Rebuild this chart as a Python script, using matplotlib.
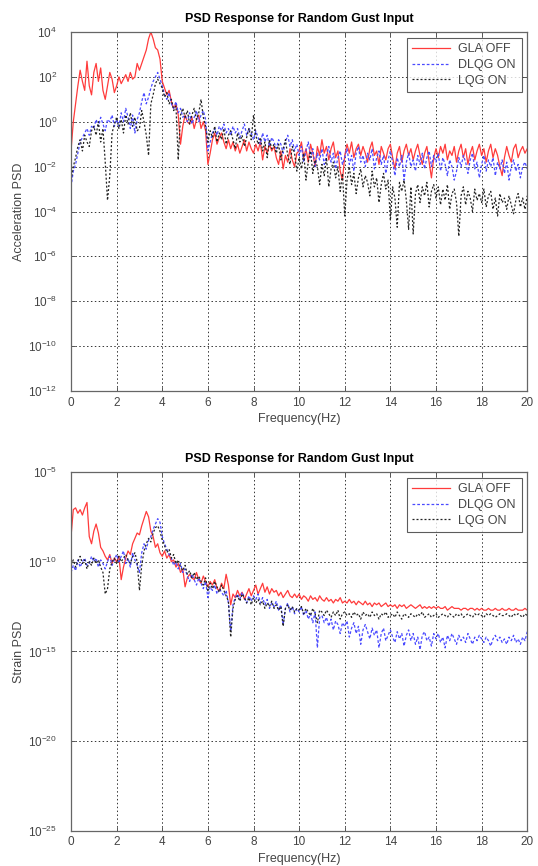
import numpy as np
import matplotlib
matplotlib.use("Agg")
import matplotlib.pyplot as plt
from matplotlib.ticker import NullLocator, FixedLocator

plt.rcParams['font.family'] = ['Liberation Sans', 'DejaVu Sans']

# Frequency axis (Hz), 0.1 Hz resolution
freq_start, freq_stop, freq_count = 0.0, 20.0, 201
freq = np.linspace(freq_start, freq_stop, freq_count)

series_labels = ["GLA OFF", "DLQG ON", "LQG ON"]
title_text = "PSD Response for Random Gust Input"
xlabel_text = "Frequency(Hz)"
ylabels = ["Acceleration PSD", "Strain PSD"]
xticks = [0, 2, 4, 6, 8, 10, 12, 14, 16, 18, 20]
acc_yticks_exp = [4, 2, 0, -2, -4, -6, -8, -10, -12]
strain_yticks_exp = [-5, -10, -15, -20, -25]

# ---- Acceleration PSD (log10 values) ----
acc_gla_off_log10 = [
    -1.3, 0.0, 0.8, 1.6, 2.3, 1.8, 1.4, 2.7, 1.6, 1.2,
    2.2, 2.6, 1.8, 2.4, 1.4, 1.0, 1.6, 2.2, 1.9, 1.3,
    1.6, 2.0, 1.7, 1.9, 2.1, 1.8, 2.2, 1.9, 2.0, 2.6,
    2.3, 2.6, 2.9, 3.2, 3.7, 4.0, 3.7, 3.3, 3.2, 2.8,
    1.8, 1.5, 1.2, 1.4, 0.9, 0.6, 0.8, 0.3, -1.0, -0.2,
    0.3, 0.0, -0.1, 0.2, -0.3, 0.1, 0.3, -0.3, 0.0, -0.4,
    -1.9, -1.4, -0.8, -0.5, -1.0, -0.7, -0.5, -0.9, -1.2, -0.8,
    -1.2, -0.9, -1.3, -1.0, -1.4, -1.1, -0.8, -1.3, -0.9, -1.2,
    -1.4, -1.0, -1.3, -0.9, -1.7, -1.1, -1.4, -1.0, -1.3, -1.1,
    -1.6, -1.9, -1.3, -2.1, -1.5, -1.8, -1.2, -1.7, -2.0, -1.4,
    -1.3, -0.9, -1.6, -1.2, -1.8, -1.0, -1.4, -2.0, -1.1, -1.5,
    -0.8, -1.4, -1.1, -1.7, -1.2, -0.9, -1.6, -1.3, -2.2, -2.6,
    -1.5, -1.0, -1.4, -0.9, -1.6, -1.2, -1.0, -1.5, -1.1, -1.4,
    -1.8, -1.2, -0.9, -1.5, -1.3, -1.9, -1.1, -1.4, -1.7, -1.2,
    -1.0, -1.6, -2.1, -1.4, -1.1, -1.8, -1.3, -1.0, -1.5, -1.2,
    -1.7, -1.3, -1.0, -1.5, -1.9, -1.4, -1.1, -1.8, -2.5, -1.6,
    -1.2, -1.6, -1.1, -1.4, -1.0, -1.7, -1.3, -1.5, -1.1, -1.8,
    -1.3, -1.0, -1.6, -1.2, -1.9, -1.4, -1.1, -1.7, -1.3, -1.0,
    -1.5, -1.2, -1.8, -1.3, -1.0, -1.6, -1.2, -1.5, -2.0, -2.4,
    -1.6, -1.1, -1.5, -1.8, -1.2, -1.0, -1.6, -1.3, -1.1, -1.4, -1.2,
]
acc_dlqg_on_log10 = [
    -2.9, -2.2, -1.9, -1.4, -0.9, -0.7, -0.5, -0.3, -0.6, -0.2,
    -0.3, 0.1, -0.2, 0.2, -0.1, -0.4, 0.1, 0.0, 0.3, -0.2,
    0.1, -0.2, 0.4, 0.0, 0.6, 0.2, -0.3, 0.3, -0.5, 0.1,
    0.4, 0.9, 1.3, 0.8, 1.1, 1.5, 1.8, 2.0, 2.2, 1.9,
    1.6, 1.2, 1.0, 1.3, 0.8, 0.6, 0.9, 0.4, 0.6, 0.2,
    0.3, 0.0, 0.4, -0.1, 0.2, 0.5, 0.0, 0.3, 0.5, 0.1,
    -1.3, -0.9, -0.5, -0.3, -0.6, -0.2, -0.4, -0.1, -0.5, -0.3,
    -0.6, -0.2, -0.5, -0.3, -0.7, -0.4, -0.1, -0.6, -0.3, -0.5,
    -0.8, -0.4, -0.7, -1.0, -0.5, -0.9, -0.6, -1.1, -0.7, -0.9,
    -1.2, -0.8, -1.0, -1.4, -0.9, -0.6, -1.1, -0.8, -1.3, -1.0,
    -1.5, -1.1, -1.8, -1.3, -0.9, -1.6, -1.2, -2.0, -1.4, -1.7,
    -1.2, -1.9, -1.5, -1.1, -1.8, -1.4, -2.1, -1.6, -1.3, -1.9,
    -1.6, -1.2, -1.9, -1.5, -2.2, -1.4, -1.1, -1.8, -1.5, -2.0,
    -1.4, -1.7, -1.2, -2.1, -1.6, -1.3, -1.9, -1.5, -2.3, -1.7,
    -1.3, -1.8, -2.4, -1.6, -2.0, -1.5, -2.6, -1.8, -1.4, -2.0,
    -1.7, -2.2, -1.5, -1.9, -1.4, -2.1, -1.6, -1.3, -2.0, -1.5,
    -1.8, -1.4, -2.2, -1.6, -1.9, -2.4, -1.7, -2.0, -2.6, -2.2,
    -1.6, -2.0, -1.5, -1.8, -2.3, -1.7, -1.4, -2.1, -1.8, -2.5,
    -1.9, -1.5, -2.2, -1.7, -2.0, -1.6, -2.4, -1.8, -2.1, -1.7,
    -2.3, -1.8, -2.6, -2.0, -1.7, -2.2, -1.9, -2.5, -2.0, -1.8, -2.1,
]
acc_lqg_on_log10 = [
    -2.6, -2.0, -1.6, -1.1, -0.8, -1.3, -0.6, -0.9, -1.1, -0.4,
    -0.2, -0.6, 0.0, -0.9, -0.3, -1.8, -3.5, -2.4, -0.5, -0.1,
    0.2, -0.3, 0.1, -0.5, 0.3, -0.1, 0.4, -0.2, 0.2, -0.4,
    -0.3, 0.5, 0.0, -0.6, -1.5, 0.8, 1.2, 1.7, 1.9, 1.7,
    1.5, 1.1, 1.3, 0.8, 1.0, 0.5, 0.7, -1.7, 0.3, 0.6,
    0.2, 0.5, -0.1, 0.3, 0.6, 0.1, 0.4, 1.0, 0.2, -0.2,
    -0.9, -0.4, -0.7, -0.2, -0.9, -0.5, -0.8, -0.3, -1.0, -0.6,
    -0.4, -0.8, -1.2, -0.5, -0.9, -0.6, -1.1, -0.7, -0.3, -0.8,
    0.3, -0.6, -1.0, -0.7, -1.3, -0.9, -1.6, -0.8, -1.2, -1.0,
    -1.4, -1.0, -1.7, -1.2, -0.8, -1.5, -1.9, -1.1, -1.4, -2.2,
    -1.6, -2.1, -1.4, -2.6, -1.8, -1.3, -2.3, -1.7, -2.0, -2.8,
    -1.9, -2.4, -1.6, -2.9, -2.1, -1.8, -2.5, -2.0, -3.1, -2.3,
    -4.2, -2.6, -2.0, -2.8, -2.3, -3.2, -2.5, -2.1, -2.9, -2.4,
    -2.7, -3.3, -2.2, -2.9, -2.5, -3.6, -2.8, -2.3, -3.0, -2.6,
    -4.4, -2.9, -3.4, -4.7, -2.7, -3.1, -2.6, -3.5, -4.8, -2.9,
    -5.0, -3.2, -2.8, -3.6, -2.9, -3.3, -2.7, -3.8, -3.1, -2.8,
    -3.4, -2.9, -3.7, -3.0, -3.5, -2.8, -3.9, -3.2, -3.0, -3.6,
    -5.1, -3.3, -2.9, -3.7, -3.1, -3.4, -4.0, -3.0, -3.5, -3.2,
    -3.6, -3.0, -3.8, -3.3, -3.1, -3.9, -3.4, -4.2, -3.2, -3.6,
    -3.4, -3.9, -3.3, -3.7, -4.1, -3.5, -3.2, -3.8, -3.4, -3.9, -3.3,
]

# ---- Strain PSD (log10 values) ----
strain_gla_off_log10 = [
    -8.6, -7.1, -7.0, -7.3, -7.1, -7.4, -7.0, -6.7, -8.6, -9.0,
    -8.3, -7.9, -8.4, -9.2, -9.4, -9.7, -9.9, -9.6, -10.1, -9.8,
    -10.0, -9.7, -11.0, -10.3, -9.8, -9.4, -9.6, -9.0, -8.7, -8.4,
    -8.5, -8.0, -7.6, -7.2, -7.5, -8.3, -8.6, -9.2, -9.0, -9.5,
    -9.7, -9.4, -9.8, -9.6, -10.0, -9.9, -10.3, -10.1, -10.6, -10.4,
    -11.4, -10.9, -10.7, -10.9, -11.0, -10.6, -11.0, -11.2, -10.8, -11.1,
    -11.4, -11.1, -11.3, -11.0, -11.5, -11.6, -11.2, -11.5, -10.7, -11.3,
    -12.4, -11.8, -12.0, -11.6, -11.9, -11.7, -12.1, -11.8, -11.5, -11.9,
    -11.6, -11.3, -11.8, -11.5, -11.2, -11.7, -11.4, -11.8, -11.5, -11.7,
    -11.6, -11.9, -11.7, -12.0, -11.8, -11.6, -11.9, -12.0, -11.8, -12.0,
    -11.8, -12.1, -11.9, -12.0, -12.2, -11.9, -12.1, -12.0, -12.2, -11.9,
    -12.1, -12.2, -12.0, -12.2, -12.1, -12.3, -12.1, -12.2, -12.0, -12.3,
    -12.2, -12.3, -12.1, -12.3, -12.2, -12.4, -12.2, -12.3, -12.4, -12.2,
    -12.4, -12.3, -12.5, -12.3, -12.4, -12.3, -12.5, -12.4, -12.3, -12.5,
    -12.4, -12.5, -12.4, -12.6, -12.4, -12.5, -12.4, -12.6, -12.5, -12.4,
    -12.5, -12.6, -12.5, -12.4, -12.6, -12.5, -12.6, -12.5, -12.6, -12.5,
    -12.6, -12.5, -12.6, -12.6, -12.5, -12.7, -12.6, -12.5, -12.6, -12.6,
    -12.6, -12.7, -12.6, -12.6, -12.7, -12.6, -12.6, -12.7, -12.6, -12.7,
    -12.6, -12.7, -12.7, -12.6, -12.7, -12.7, -12.6, -12.7, -12.7, -12.6,
    -12.7, -12.7, -12.6, -12.7, -12.7, -12.6, -12.7, -12.7, -12.7, -12.6, -12.7,
]
strain_dlqg_on_log10 = [
    -10.6, -10.2, -10.5, -9.9, -10.3, -10.0, -9.8, -10.2, -10.1, -9.7,
    -10.0, -9.8, -10.3, -9.9, -10.1, -10.4, -10.0, -9.7, -10.2, -9.9,
    -9.6, -10.0, -9.7, -9.4, -10.1, -9.8, -10.3, -9.5, -9.9, -10.2,
    -10.6, -9.5, -9.0, -9.3, -8.8, -8.6, -8.2, -7.9, -7.6, -7.8,
    -8.6, -9.0, -9.3, -9.6, -9.8, -10.2, -10.0, -10.4, -10.1, -10.6,
    -10.4, -10.8, -11.1, -10.7, -11.0, -11.3, -10.9, -11.2, -11.5, -11.1,
    -12.0, -11.4, -11.6, -11.3, -11.8, -11.5, -11.7, -11.9, -11.6, -12.3,
    -13.9, -12.4, -12.0, -11.8, -12.1, -11.7, -12.0, -12.3, -11.9, -12.2,
    -11.9, -12.1, -11.8, -12.3, -12.0, -12.4, -12.1, -12.6, -12.3, -12.5,
    -12.2, -12.7, -12.4, -13.5, -12.6, -12.3, -12.8, -12.5, -12.9, -12.6,
    -12.8, -12.5, -13.0, -12.7, -13.2, -12.9, -13.4, -12.8, -14.8, -13.1,
    -13.0, -13.4, -13.1, -13.6, -13.2, -13.8, -13.3, -13.5, -14.0, -13.4,
    -13.6, -13.3, -14.2, -13.7, -13.4, -14.0, -13.6, -14.6, -13.8, -13.5,
    -13.9, -14.3, -13.7, -14.1, -13.8, -14.8, -14.0, -13.7, -14.4, -14.1,
    -13.8, -14.2, -14.5, -13.9, -14.3, -14.0, -14.7, -14.1, -13.8, -14.4,
    -14.0, -14.6, -14.2, -14.9, -14.1, -13.9, -14.4, -14.2, -14.7, -14.0,
    -14.3, -14.0, -14.5, -14.2, -14.8, -14.1, -14.4, -14.0, -14.3, -14.6,
    -14.1, -14.4, -14.2, -14.5, -14.0, -14.3, -14.6, -14.2, -14.4, -14.1,
    -14.3, -14.5, -14.2, -14.4, -14.7, -14.3, -14.1, -14.4, -14.2, -14.5,
    -14.3, -14.6, -14.2, -14.4, -14.1, -14.5, -14.3, -14.6, -14.2, -14.4, -13.9,
]
strain_lqg_on_log10 = [
    -10.2, -9.9, -10.3, -10.0, -9.7, -10.1, -9.9, -10.4, -10.0, -10.2,
    -9.8, -10.1, -9.9, -10.3, -10.6, -11.8, -11.5, -10.4, -10.0, -9.8,
    -10.1, -9.7, -10.0, -9.8, -9.6, -9.9, -10.1, -9.7, -9.5, -10.0,
    -11.6, -10.2, -9.4, -9.0, -8.7, -8.9, -8.4, -8.1, -8.0, -8.3,
    -8.8, -9.1, -9.5, -9.3, -9.8, -9.6, -10.1, -9.9, -10.3, -10.5,
    -10.2, -10.7, -10.5, -10.9, -10.6, -11.0, -10.8, -11.1, -11.3, -10.9,
    -11.6, -11.2, -11.5, -11.1, -11.4, -11.7, -11.3, -11.6, -11.9, -12.2,
    -14.2, -12.6, -12.1, -11.9, -12.2, -11.8, -12.0, -12.3, -12.0, -12.4,
    -12.0, -12.3, -12.1, -12.4, -12.2, -12.6, -12.3, -12.5, -12.2, -12.6,
    -12.4, -12.7, -12.5, -13.6, -12.6, -12.4, -12.7, -12.5, -12.8, -12.6,
    -12.7, -12.5, -12.9, -12.6, -12.8, -13.0, -12.6, -12.9, -13.4, -12.7,
    -12.8, -13.0, -12.7, -12.9, -13.1, -12.8, -13.0, -12.7, -13.2, -12.9,
    -12.8, -13.0, -12.9, -13.1, -12.8, -13.0, -12.9, -13.2, -12.8, -13.0,
    -12.9, -13.1, -12.8, -13.0, -12.9, -13.2, -12.9, -13.0, -12.8, -13.1,
    -13.0, -12.9, -13.1, -12.8, -13.0, -13.2, -12.9, -13.0, -13.1, -12.9,
    -13.0, -13.1, -12.9, -13.0, -12.8, -13.1, -13.0, -12.9, -13.1, -13.0,
    -12.9, -13.1, -13.0, -12.9, -13.0, -13.1, -12.9, -13.0, -13.1, -12.9,
    -13.0, -12.9, -13.1, -13.0, -12.9, -13.0, -13.1, -12.9, -13.0, -12.9,
    -13.0, -13.1, -12.9, -13.0, -12.9, -13.0, -13.1, -13.0, -12.9, -13.0,
    -13.0, -12.9, -13.0, -13.1, -12.9, -13.0, -12.9, -13.0, -13.1, -12.9, -13.0,
]

colors = ["#ff3b3b", "#4a4aff", "#222222"]
styles = ["-", (0, (2.2, 1.6)), (0, (1.6, 1.6))]
widths = [0.9, 0.9, 0.9]

fig = plt.figure(figsize=(5.38, 8.66), dpi=100)
fig.patch.set_facecolor("white")

panels = [
    (fig.add_axes([0.132, 0.5485, 0.848, 0.4145]),
     [acc_gla_off_log10, acc_dlqg_on_log10, acc_lqg_on_log10],
     acc_yticks_exp, ylabels[0]),
    (fig.add_axes([0.132, 0.0405, 0.848, 0.4145]),
     [strain_gla_off_log10, strain_dlqg_on_log10, strain_lqg_on_log10],
     strain_yticks_exp, ylabels[1]),
]

for ax, data, yexp, ylab in panels:
    for vals, lab, c, ls, lw in zip(data, series_labels, colors, styles, widths):
        ax.plot(freq, np.power(10.0, np.array(vals)), color=c, linestyle=ls,
                linewidth=lw, label=lab)
    ax.set_yscale("log")
    ax.set_xlim(freq_start, freq_stop)
    ax.set_ylim(10.0 ** min(yexp), 10.0 ** max(yexp))
    ax.yaxis.set_major_locator(FixedLocator([10.0 ** e for e in yexp]))
    ax.yaxis.set_minor_locator(NullLocator())
    ax.set_xticks(xticks)
    ax.set_xticklabels([str(t) for t in xticks])
    ax.grid(True, which="major", color="#333333", linestyle=(0, (1.5, 2.5)),
            linewidth=0.7)
    ax.tick_params(direction="in", top=True, right=True, length=3,
                   width=0.7, labelsize=8.5, labelcolor="#444444",
                   color="#555555")
    ax.tick_params(axis="x", pad=4)
    ax.tick_params(axis="y", pad=10)
    for sp in ax.spines.values():
        sp.set_color("#666666")
        sp.set_linewidth(0.9)
    ax.set_title(title_text, fontsize=9, fontweight="bold", pad=7)
    ax.set_xlabel(xlabel_text, fontsize=9, color="#444444", labelpad=3)
    ax.set_ylabel(ylab, fontsize=9, color="#444444")
    ax.yaxis.set_label_coords(-0.10, 0.5)
    leg = ax.legend(loc="upper right", fontsize=9, frameon=True, fancybox=False,
                    handlelength=3.0, handletextpad=0.7, borderpad=0.45,
                    labelspacing=0.3, borderaxespad=0.45)
    leg.get_frame().set_edgecolor("#333333")
    leg.get_frame().set_linewidth(0.8)
    for t in leg.get_texts():
        t.set_color("#444444")

fig.savefig("out.png", dpi=100, facecolor="white")
